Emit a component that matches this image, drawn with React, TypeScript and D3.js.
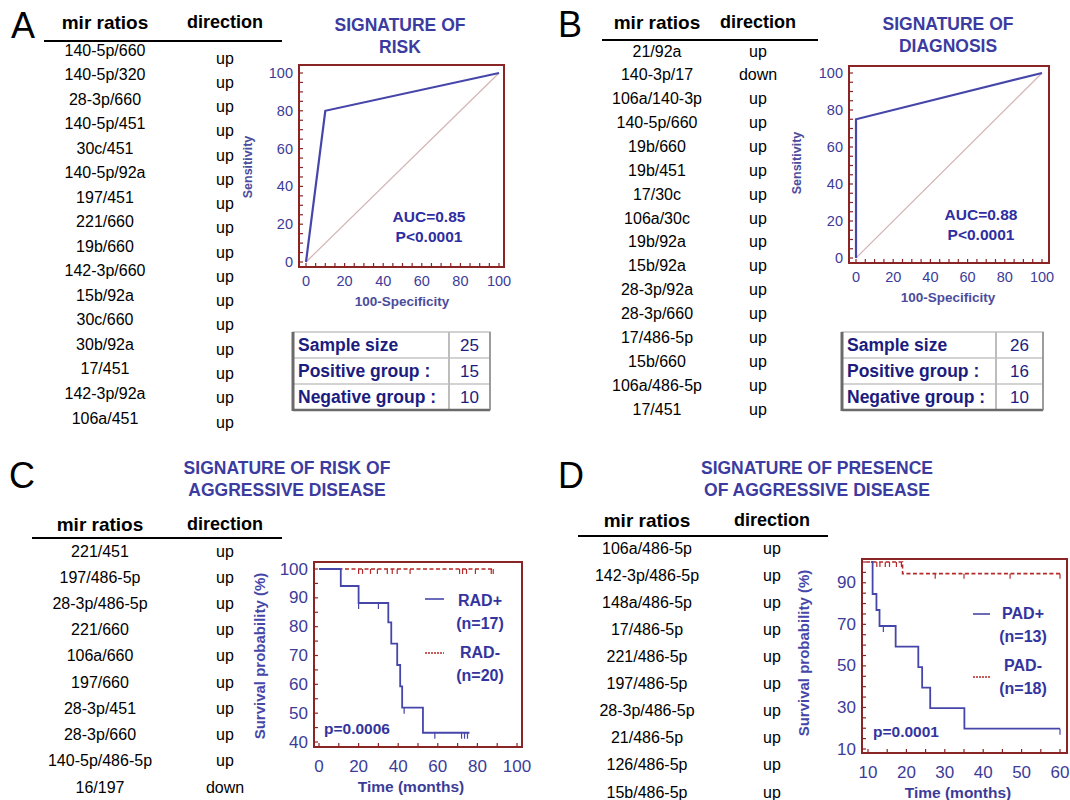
import * as d3 from "d3";

const FONT = "'Liberation Sans', Arial, sans-serif";
const TITLE_BLUE = "#3b3ba0";
const AXIS_BLUE = "#3c3c98";
const NAVY = "#1c1c7e";
const FRAME = "#8b2424";
const CURVE_BLUE = "#4646aa";
const DASH_RED = "#b42a2a";

// panel A
const riskRatios = ["140-5p/660", "140-5p/320", "28-3p/660", "140-5p/451", "30c/451", "140-5p/92a", "197/451", "221/660", "19b/660", "142-3p/660", "15b/92a", "30c/660", "30b/92a", "17/451", "142-3p/92a", "106a/451"];
const riskDirections = ["up", "up", "up", "up", "up", "up", "up", "up", "up", "up", "up", "up", "up", "up", "up", "up"];
// panel B
const diagRatios = ["21/92a", "140-3p/17", "106a/140-3p", "140-5p/660", "19b/660", "19b/451", "17/30c", "106a/30c", "19b/92a", "15b/92a", "28-3p/92a", "28-3p/660", "17/486-5p", "15b/660", "106a/486-5p", "17/451"];
const diagDirections = ["up", "down", "up", "up", "up", "up", "up", "up", "up", "up", "up", "up", "up", "up", "up", "up"];
// panel C
const radRatios = ["221/451", "197/486-5p", "28-3p/486-5p", "221/660", "106a/660", "197/660", "28-3p/451", "28-3p/660", "140-5p/486-5p", "16/197"];
const radDirections = ["up", "up", "up", "up", "up", "up", "up", "up", "up", "down"];
// panel D
const padRatios = ["106a/486-5p", "142-3p/486-5p", "148a/486-5p", "17/486-5p", "221/486-5p", "197/486-5p", "28-3p/486-5p", "21/486-5p", "126/486-5p", "15b/486-5p"];
const padDirections = ["up", "up", "up", "up", "up", "up", "up", "up", "up", "up"];

// ROC curves
const rocTicks = [0, 20, 40, 60, 80, 100];
const riskFpr = [0, 10, 100];
const riskTpr = [0, 80, 100];
const diagFpr = [0, 0, 100];
const diagTpr = [0, 75, 100];

const tableLabels = ["Sample size", "Positive group :", "Negative group :"];
const riskTableValues = [25, 15, 10];
const diagTableValues = [26, 16, 10];

// Kaplan-Meier C
const radXTicks = [0, 20, 40, 60, 80, 100];
const radYTicks = [40, 50, 60, 70, 80, 90, 100];
const radPosTimes = [0, 11, 20, 35, 36.5, 39.5, 41, 42, 52.5];
const radPosSurv = [100, 94.1, 88.2, 81.5, 74.1, 66.7, 59.3, 51.9, 43.2];
const radPosEnd = 76;
const radPosCensor = [20, 30, 43, 58.5, 72, 73.5, 75];
const radNegTimes = [0];
const radNegSurv = [100];
const radNegEnd = 88;
const radNegCensor = [20, 22, 26, 29.5, 34.5, 37, 39.5, 46, 71, 72.5, 74.5, 79, 87, 88];

// Kaplan-Meier D
const padXTicks = [10, 20, 30, 40, 50, 60];
const padYTicks = [10, 30, 50, 70, 90];
const padPosTimes = [10.8, 11.2, 12.2, 13, 17.2, 23.1, 24.1, 26.2, 35.1];
const padPosSurv = [100, 84.6, 76.9, 69.2, 59.3, 49.4, 39.5, 29.7, 19.8];
const padPosEnd = 60;
const padPosCensor = [14, 60];
const padNegTimes = [9.5, 19];
const padNegSurv = [100, 94.4];
const padNegEnd = 60;
const padNegCensor = [12.3, 13.1, 14.5, 15.6, 17.4, 18.7, 27.5, 35, 47, 60];

type Box = { l: number; r: number; t: number; b: number };

function MirList(props: {
  ratios: string[];
  directions: string[];
  ratioX: number;
  dirX: number;
  headerY: number;
  line: [number, number, number];
  rows: [number, number];
  dirRows: [number, number];
}) {
  const { ratios, directions, ratioX, dirX, headerY, line, rows, dirRows } = props;
  const yR = d3.scaleLinear().domain([0, ratios.length - 1]).range(rows);
  const yD = d3.scaleLinear().domain([0, directions.length - 1]).range(dirRows);
  return (
    <g fontFamily={FONT}>
      <text x={ratioX} y={headerY} textAnchor="middle" dominantBaseline="central" fontSize={19} fontWeight="bold">
        mir ratios
      </text>
      <text x={dirX} y={headerY} textAnchor="middle" dominantBaseline="central" fontSize={18} fontWeight="bold">
        direction
      </text>
      <line x1={line[0]} x2={line[1]} y1={line[2]} y2={line[2]} stroke="#000" strokeWidth={2} />
      {ratios.map((r, i) => (
        <text key={"r" + i} x={ratioX} y={yR(i)} textAnchor="middle" dominantBaseline="central" fontSize={16}>
          {r}
        </text>
      ))}
      {directions.map((d, i) => (
        <text key={"d" + i} x={dirX} y={yD(i)} textAnchor="middle" dominantBaseline="central" fontSize={16}>
          {d}
        </text>
      ))}
    </g>
  );
}

function Title({ lines, x, y }: { lines: string[]; x: number; y: number }) {
  return (
    <g fontFamily={FONT} fill={TITLE_BLUE} fontWeight="bold" fontSize={17.5}>
      {lines.map((s, i) => (
        <text key={i} x={x} y={y + i * 21.5} textAnchor="middle" dominantBaseline="central">
          {s}
        </text>
      ))}
    </g>
  );
}

function InnerTicks({ box, xs, ys, xMinor, yMinor }: { box: Box; xs: d3.ScaleLinear<number, number>; ys: d3.ScaleLinear<number, number>; xMinor: number[]; yMinor: number[] }) {
  return (
    <g stroke={FRAME} strokeWidth={1.2}>
      {yMinor.map((v, i) => (
        <line key={"y" + i} x1={box.l} x2={box.l + 4} y1={ys(v)} y2={ys(v)} />
      ))}
      {xMinor.map((v, i) => (
        <line key={"x" + i} x1={xs(v)} x2={xs(v)} y1={box.b} y2={box.b - 4} />
      ))}
    </g>
  );
}

function Roc(props: {
  fpr: number[];
  tpr: number[];
  box: Box;
  xRange: [number, number];
  yRange: [number, number];
  auc: string;
  aucX: number;
  aucY: number;
  xTitle: [number, number];
  yTitle: [number, number];
}) {
  const { fpr, tpr, box, xRange, yRange, auc, aucX, aucY, xTitle, yTitle } = props;
  const x = d3.scaleLinear().domain([0, 100]).range(xRange);
  const y = d3.scaleLinear().domain([0, 100]).range(yRange);
  const pts: [number, number][] = fpr.map((f, i) => [f, tpr[i]]);
  const path = d3.line<[number, number]>().x((d) => x(d[0])).y((d) => y(d[1]))(pts) ?? "";
  const minor = d3.range(0, 101, 5);
  return (
    <g fontFamily={FONT}>
      <line x1={x(0)} y1={y(0)} x2={x(100)} y2={y(100)} stroke="#d4b4b4" strokeWidth={1.2} />
      <path d={path} fill="none" stroke={CURVE_BLUE} strokeWidth={2.2} />
      <rect x={box.l} y={box.t} width={box.r - box.l} height={box.b - box.t} fill="none" stroke={FRAME} strokeWidth={2} />
      <InnerTicks box={box} xs={x} ys={y} xMinor={minor} yMinor={minor} />
      {rocTicks.map((v) => (
        <text key={"yt" + v} x={box.l - 6} y={y(v)} textAnchor="end" dominantBaseline="central" fontSize={14.5} fill={AXIS_BLUE}>
          {v}
        </text>
      ))}
      {rocTicks.map((v) => (
        <text key={"xt" + v} x={x(v)} y={box.b + 14} textAnchor="middle" dominantBaseline="central" fontSize={14.5} fill={AXIS_BLUE}>
          {v}
        </text>
      ))}
      <text x={xTitle[0]} y={xTitle[1]} textAnchor="middle" dominantBaseline="central" fontSize={13.5} fontWeight="bold" fill="#4c4c9c">
        100-Specificity
      </text>
      <text
        transform={`translate(${yTitle[0]},${yTitle[1]}) rotate(-90)`}
        textAnchor="middle"
        dominantBaseline="central"
        fontSize={12.5}
        fontWeight="bold"
        fill="#4c4c9c"
      >
        Sensitivity
      </text>
      <text x={aucX} y={aucY} textAnchor="middle" dominantBaseline="central" fontSize={15.5} fontWeight="bold" fill="#2e2ea2">
        {auc}
      </text>
      <text x={aucX} y={aucY + 20} textAnchor="middle" dominantBaseline="central" fontSize={15.5} fontWeight="bold" fill="#2e2ea2">
        P&lt;0.0001
      </text>
    </g>
  );
}

function GroupTable({ values, box, divider }: { values: number[]; box: Box; divider: number }) {
  const rowY = d3.scaleLinear().domain([0, tableLabels.length]).range([box.t, box.b]);
  return (
    <g fontFamily={FONT}>
      <rect x={box.l} y={box.t} width={box.r - box.l} height={box.b - box.t} fill="#fff" stroke="#c4c4c4" strokeWidth={1.5} />
      {d3.range(1, tableLabels.length).map((i) => (
        <line key={i} x1={box.l} x2={box.r} y1={rowY(i)} y2={rowY(i)} stroke="#c4c4c4" strokeWidth={1.5} />
      ))}
      <line x1={divider} x2={divider} y1={box.t} y2={box.b} stroke="#bdbdbd" strokeWidth={2} />
      <line x1={box.l} x2={box.l} y1={box.t} y2={box.b + 1} stroke="#6a6a6a" strokeWidth={3} />
      <line x1={box.l} x2={box.r} y1={box.b} y2={box.b} stroke="#6a6a6a" strokeWidth={2.5} />
      <line x1={box.r} x2={box.r} y1={box.t} y2={box.b} stroke="#8a8a8a" strokeWidth={1.5} />
      {tableLabels.map((s, i) => (
        <text key={s} x={box.l + 5} y={(rowY(i) + rowY(i + 1)) / 2} dominantBaseline="central" fontSize={17.5} fontWeight="bold" fill={NAVY}>
          {s}
        </text>
      ))}
      {values.map((v, i) => (
        <text key={i} x={(divider + box.r) / 2} y={(rowY(i) + rowY(i + 1)) / 2} textAnchor="middle" dominantBaseline="central" fontSize={17} fill={NAVY}>
          {v}
        </text>
      ))}
    </g>
  );
}

type Series = { times: number[]; surv: number[]; end: number; censor: number[] };

function survAt(s: Series, t: number) {
  const idx = d3.bisectRight(s.times, t) - 1;
  return s.surv[Math.max(0, idx)];
}

function KaplanMeier(props: {
  box: Box;
  xDomain: [number, number];
  xRange: [number, number];
  yDomain: [number, number];
  yRange: [number, number];
  xTicks: number[];
  yTicks: number[];
  xMinorStep: number;
  yMinorStep: number;
  pos: Series;
  neg: Series;
  legend: { x: number; lineX: [number, number]; lines: [string, number][]; posY: number; negY: number };
  pValue: string;
  pXY: [number, number];
  xTitle: [number, number];
  yTitle: [number, number];
  xLabelY: number;
}) {
  const { box, xDomain, xRange, yDomain, yRange, xTicks, yTicks, pos, neg, legend, pValue, pXY, xTitle, yTitle, xLabelY } = props;
  const x = d3.scaleLinear().domain(xDomain).range(xRange);
  const y = d3.scaleLinear().domain(yDomain).range(yRange);
  const step = d3.line<[number, number]>().x((d) => x(d[0])).y((d) => y(d[1])).curve(d3.curveStepAfter);
  const pts = (s: Series): [number, number][] => [
    ...s.times.map((t, i) => [t, s.surv[i]] as [number, number]),
    [s.end, s.surv[s.surv.length - 1]],
  ];
  const xMinor = d3.range(xDomain[0], xDomain[1] + 0.01, props.xMinorStep);
  const yMinor = d3.range(yDomain[0], yDomain[1] + 0.01, props.yMinorStep);
  return (
    <g fontFamily={FONT}>
      <path d={step(pts(neg)) ?? ""} fill="none" stroke={DASH_RED} strokeWidth={1.6} strokeDasharray="4,2.5" />
      {neg.censor.map((t, i) => (
        <line key={"nc" + i} x1={x(t)} x2={x(t)} y1={y(survAt(neg, t))} y2={y(survAt(neg, t)) + 5} stroke={DASH_RED} strokeWidth={1.2} />
      ))}
      <path d={step(pts(pos)) ?? ""} fill="none" stroke={CURVE_BLUE} strokeWidth={1.8} />
      {pos.censor.map((t, i) => (
        <line key={"pc" + i} x1={x(t)} x2={x(t)} y1={y(survAt(pos, t))} y2={y(survAt(pos, t)) + 6} stroke={CURVE_BLUE} strokeWidth={1.2} />
      ))}
      <rect x={box.l} y={box.t} width={box.r - box.l} height={box.b - box.t} fill="none" stroke={FRAME} strokeWidth={2} />
      <InnerTicks box={box} xs={x} ys={y} xMinor={xMinor} yMinor={yMinor} />
      {yTicks.map((v) => (
        <text key={"yt" + v} x={box.l - 6} y={y(v)} textAnchor="end" dominantBaseline="central" fontSize={17} fill={AXIS_BLUE}>
          {v}
        </text>
      ))}
      {xTicks.map((v) => (
        <text key={"xt" + v} x={x(v)} y={xLabelY} textAnchor="middle" dominantBaseline="central" fontSize={17} fill={AXIS_BLUE}>
          {v}
        </text>
      ))}
      <text x={xTitle[0]} y={xTitle[1]} textAnchor="middle" dominantBaseline="central" fontSize={15.5} fontWeight="bold" fill={AXIS_BLUE}>
        Time (months)
      </text>
      <text
        transform={`translate(${yTitle[0]},${yTitle[1]}) rotate(-90)`}
        textAnchor="middle"
        dominantBaseline="central"
        fontSize={15}
        fontWeight="bold"
        fill="#4646a8"
      >
        Survival probability (%)
      </text>
      <line x1={legend.lineX[0]} x2={legend.lineX[1]} y1={legend.posY} y2={legend.posY} stroke={CURVE_BLUE} strokeWidth={1.6} />
      <line x1={legend.lineX[0]} x2={legend.lineX[1]} y1={legend.negY} y2={legend.negY} stroke={DASH_RED} strokeWidth={1.4} strokeDasharray="2,1" />
      {legend.lines.map(([s, ly], i) => (
        <text key={i} x={legend.x} y={ly} textAnchor="middle" dominantBaseline="central" fontSize={16} fontWeight="bold" fill="#34349e">
          {s}
        </text>
      ))}
      <text x={pXY[0]} y={pXY[1]} dominantBaseline="central" fontSize={15.5} fontWeight="bold" fill="#34349e">
        {pValue}
      </text>
    </g>
  );
}

function Letter({ ch, x, y }: { ch: string; x: number; y: number }) {
  return (
    <text x={x} y={y} fontFamily={FONT} fontSize={36}>
      {ch}
    </text>
  );
}

export default function App() {
  return (
    <svg width={1070} height={800} viewBox="0 0 1070 800" style={{ position: "absolute", left: 0, top: 0, background: "#fff" }}>
      <rect width={1070} height={800} fill="#fff" />

      {/* A */}
      <Letter ch="A" x={11} y={38} />
      <MirList ratios={riskRatios} directions={riskDirections} ratioX={105} dirX={225} headerY={22} line={[44, 282, 41]} rows={[50, 418]} dirRows={[58, 422]} />
      <Title lines={["SIGNATURE OF", "RISK"]} x={400} y={25} />
      <Roc fpr={riskFpr} tpr={riskTpr} box={{ l: 299, r: 504, t: 65, b: 267 }} xRange={[306, 499]} yRange={[262, 73]} auc="AUC=0.85" aucX={429} aucY={216} xTitle={[402, 301]} yTitle={[248, 167]} />
      <GroupTable values={riskTableValues} box={{ l: 293, r: 490, t: 332, b: 410 }} divider={449} />

      {/* B */}
      <Letter ch="B" x={558} y={37} />
      <MirList ratios={diagRatios} directions={diagDirections} ratioX={657} dirX={758} headerY={22} line={[602, 818, 40]} rows={[51, 409]} dirRows={[51, 409]} />
      <Title lines={["SIGNATURE OF", "DIAGNOSIS"]} x={948} y={24} />
      <Roc fpr={diagFpr} tpr={diagTpr} box={{ l: 849, r: 1049, t: 66, b: 263 }} xRange={[856, 1042]} yRange={[258, 73]} auc="AUC=0.88" aucX={981} aucY={214} xTitle={[948, 297]} yTitle={[797, 163]} />
      <GroupTable values={diagTableValues} box={{ l: 842, r: 1043, t: 332, b: 410 }} divider={996} />

      {/* C */}
      <Letter ch="C" x={9} y={488} />
      <Title lines={["SIGNATURE OF RISK OF", "AGGRESSIVE DISEASE"]} x={287} y={468} />
      <MirList ratios={radRatios} directions={radDirections} ratioX={100} dirX={225} headerY={524} line={[32, 282, 538]} rows={[551, 787]} dirRows={[551, 787]} />
      <KaplanMeier
        box={{ l: 314, r: 522, t: 562, b: 747 }}
        xDomain={[0, 100]}
        xRange={[319, 517]}
        yDomain={[40, 100]}
        yRange={[742, 569]}
        xTicks={radXTicks}
        yTicks={radYTicks}
        xMinorStep={10}
        yMinorStep={5}
        pos={{ times: radPosTimes, surv: radPosSurv, end: radPosEnd, censor: radPosCensor }}
        neg={{ times: radNegTimes, surv: radNegSurv, end: radNegEnd, censor: radNegCensor }}
        legend={{ x: 480, lineX: [425, 444], posY: 599, negY: 653, lines: [["RAD+", 600], ["(n=17)", 623], ["RAD-", 652], ["(n=20)", 675]] }}
        pValue="p=0.0006"
        pXY={[324, 728]}
        xTitle={[411, 786]}
        yTitle={[259, 656]}
        xLabelY={766}
      />

      {/* D */}
      <Letter ch="D" x={558} y={488} />
      <Title lines={["SIGNATURE OF PRESENCE", "OF AGGRESSIVE DISEASE"]} x={817} y={468} />
      <MirList ratios={padRatios} directions={padDirections} ratioX={647} dirX={772} headerY={520} line={[578, 828, 536]} rows={[548, 792]} dirRows={[548, 792]} />
      <KaplanMeier
        box={{ l: 862, r: 1067, t: 559, b: 753 }}
        xDomain={[10, 60]}
        xRange={[868, 1060]}
        yDomain={[10, 100]}
        yRange={[749, 562]}
        xTicks={padXTicks}
        yTicks={padYTicks}
        xMinorStep={5}
        yMinorStep={5}
        pos={{ times: padPosTimes, surv: padPosSurv, end: padPosEnd, censor: padPosCensor }}
        neg={{ times: padNegTimes, surv: padNegSurv, end: padNegEnd, censor: padNegCensor }}
        legend={{ x: 1023, lineX: [973, 990], posY: 614, negY: 677, lines: [["PAD+", 613], ["(n=13)", 636], ["PAD-", 665], ["(n=18)", 688]] }}
        pValue="p=0.0001"
        pXY={[873, 731]}
        xTitle={[958, 792]}
        yTitle={[803, 653]}
        xLabelY={772}
      />
    </svg>
  );
}
